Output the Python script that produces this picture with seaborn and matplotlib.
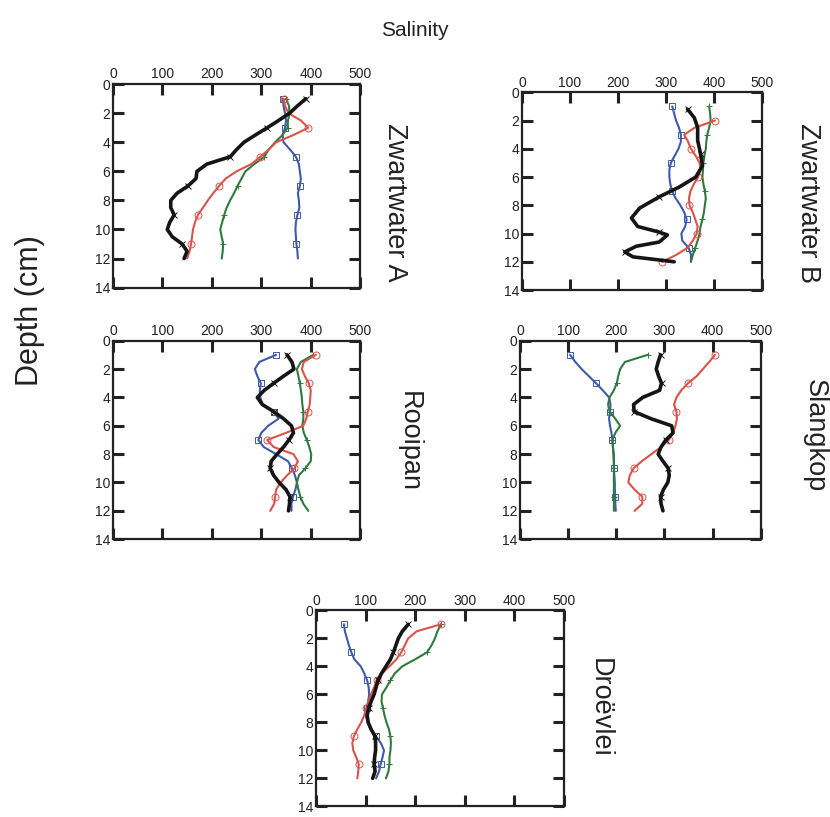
import numpy as np
import matplotlib
matplotlib.use("Agg")
import matplotlib.pyplot as plt
import seaborn as sns

sns.set_style("ticks")
plt.rcParams["font.family"] = ["Liberation Sans", "DejaVu Sans"]

# ---------------------------------------------------------------------------
# Data: salinity profiles (depth in cm, salinity)
# ---------------------------------------------------------------------------

DEPTH = [1.0, 1.5, 2.0, 2.5, 3.0, 3.5, 4.0, 4.5, 5.0, 5.5, 6.0, 6.5,
         7.0, 7.5, 8.0, 8.5, 9.0, 9.5, 10.0, 10.5, 11.0, 11.5, 12.0]

# Zwartwater A
ZWA_BLACK = [390, 373, 357, 335, 312, 288, 265, 250, 237, 190, 170, 168,
             152, 130, 117, 117, 124, 115, 110, 120, 140, 150, 144]
ZWA_RED = [345, 348, 355, 380, 395, 365, 330, 315, 298, 280, 250, 228,
           215, 203, 192, 182, 172, 166, 162, 160, 158, 155, 150]
ZWA_GREEN = [350, 356, 357, 354, 353, 343, 328, 315, 306, 286, 268, 260,
             252, 245, 237, 230, 225, 221, 217, 220, 223, 222, 220]
ZWA_BLUE = [343, 345, 348, 350, 348, 343, 345, 358, 370, 376, 378, 380,
            378, 374, 376, 377, 373, 370, 369, 370, 371, 373, 374]

# Zwartwater B
ZWB_BLACK_DEPTH = [1.2, 1.8, 2.5, 3.4, 4.35, 5.2, 6.0, 6.7, 7.4, 8.2, 8.9, 9.5,
                   9.9, 10.1, 10.6, 10.9, 11.3, 11.65, 11.9, 12.0]
ZWB_BLACK = [345, 359, 366, 366, 372, 376, 362, 328, 286, 245, 228, 241,
             286, 303, 286, 238, 214, 231, 293, 317]
ZWB_RED = [np.nan, np.nan, 402, 360, 338, 346, 352, 362, 370, 372, 367, 358,
           351, 348, 349, 356, 361, 366, 364, 356, 345, 322, 292]
ZWB_GREEN = [390, 392, 393, 390, 386, 384, 383, 380, 378, 377, 376, 378,
             381, 383, 381, 379, 376, 372, 370, 366, 361, 356, 352]
ZWB_BLUE = [313, 317, 321, 327, 331, 331, 326, 318, 310, 307, 307, 309,
            313, 320, 330, 338, 343, 340, 332, 334, 347, 352, 352]

# Rooipan
ROO_BLACK = [352, 362, 366, 345, 325, 306, 292, 302, 325, 345, 361, 365,
             356, 345, 332, 320, 318, 325, 336, 350, 358, 357, 355]
ROO_RED = [410, 386, 382, 388, 396, 400, 399, 398, 394, 391, 385, 350,
           312, 325, 365, 374, 367, 352, 339, 330, 328, 326, 318]
ROO_GREEN = [405, 380, 372, 375, 378, 380, 382, 383, 385, 385, 383, 386,
             392, 397, 401, 400, 389, 376, 372, 375, 379, 385, 395]
ROO_BLUE = [330, 296, 287, 292, 299, 297, 298, 303, 325, 335, 314, 300,
            294, 305, 330, 354, 362, 368, 372, 369, 364, 361, 361]

# Slangkop
SLA_BLACK = [292, 287, 283, 288, 294, 290, 255, 236, 237, 272, 315, 318,
             303, 293, 287, 297, 308, 310, 307, 298, 292, 293, 297]
SLA_RED = [405, 393, 380, 367, 349, 335, 325, 320, 325, 326, 323, 318,
           309, 293, 273, 253, 236, 228, 225, 238, 254, 254, 238]
SLA_GREEN = [265, 218, 208, 204, 201, 195, 186, 183, 186, 198, 208, 198,
             192, 193, 195, 195, 195, 195, 195, 195, 195, 195, 195]
SLA_BLUE = [104, 115, 128, 143, 158, 172, 185, 188, 187, 185, 187, 190,
            192, 193, 194, 195, 195, 196, 197, 197, 198, 198, 199]

# Droevlei
DRO_BLACK = [186, 174, 166, 161, 156, 150, 141, 132, 125, 121, 117, 111,
             106, 103, 105, 111, 119, 120, 120, 118, 117, 119, 114]
DRO_RED = [252, 203, 186, 179, 172, 162, 148, 133, 122, 117, 111, 105,
           101, 97, 91, 83, 76, 73, 75, 81, 86, 85, 83]
DRO_GREEN = [252, 245, 240, 233, 224, 200, 174, 159, 150, 142, 133, 132,
             135, 138, 142, 147, 150, 151, 150, 148, 148, 146, 141]
DRO_BLUE = [56, 58, 62, 66, 71, 77, 90, 97, 103, 106, 107, 105,
            103, 100, 104, 110, 121, 131, 137, 134, 130, 127, 121]

SITES = ["Zwartwater A", "Zwartwater B", "Rooipan", "Slangkop", "Droëvlei"]
X_TICKS = [0, 100, 200, 300, 400, 500]
Y_TICKS = [0, 2, 4, 6, 8, 10, 12, 14]

C_BLACK = "#151515"
C_RED = "#d9534a"
C_GREEN = "#2f7a3c"
C_BLUE = "#3f5aa8"

panels = [
    # (axes rect, series, site label position)
    ([0.136, 0.648, 0.298, 0.249],
     [(DEPTH, ZWA_BLUE, C_BLUE, "s"), (DEPTH, ZWA_GREEN, C_GREEN, "+"),
      (DEPTH, ZWA_RED, C_RED, "o"), (DEPTH, ZWA_BLACK, C_BLACK, "x")],
     (0.476, 0.752)),
    ([0.629, 0.645, 0.289, 0.242],
     [(DEPTH, ZWB_BLUE, C_BLUE, "s"), (DEPTH, ZWB_GREEN, C_GREEN, "+"),
      (DEPTH, ZWB_RED, C_RED, "o"), (ZWB_BLACK_DEPTH, ZWB_BLACK, C_BLACK, "x")],
     (0.974, 0.752)),
    ([0.136, 0.340, 0.298, 0.243],
     [(DEPTH, ROO_BLUE, C_BLUE, "s"), (DEPTH, ROO_GREEN, C_GREEN, "+"),
      (DEPTH, ROO_RED, C_RED, "o"), (DEPTH, ROO_BLACK, C_BLACK, "x")],
     (0.492, 0.459)),
    ([0.6265, 0.340, 0.290, 0.243],
     [(DEPTH, SLA_BLUE, C_BLUE, "s"), (DEPTH, SLA_GREEN, C_GREEN, "+"),
      (DEPTH, SLA_RED, C_RED, "o"), (DEPTH, SLA_BLACK, C_BLACK, "x")],
     (0.982, 0.467)),
    ([0.381, 0.013, 0.298, 0.240],
     [(DEPTH, DRO_BLUE, C_BLUE, "s"), (DEPTH, DRO_GREEN, C_GREEN, "+"),
      (DEPTH, DRO_RED, C_RED, "o"), (DEPTH, DRO_BLACK, C_BLACK, "x")],
     (0.722, 0.134)),
]

fig = plt.figure(figsize=(8.3, 8.17), dpi=100)

for site, (rect, series, label_pos) in zip(SITES, panels):
    ax = fig.add_axes(rect)
    for depth, values, color, marker in series:
        is_black = color == C_BLACK
        sns.lineplot(x=values, y=depth, orient="y", color=color, ax=ax,
                     linewidth=2.6 if is_black else 1.5,
                     marker=marker, markevery=4, markersize=5,
                     markerfacecolor="none", markeredgecolor=color,
                     markeredgewidth=0.7)
    ax.set_xlim(0, 500)
    ax.set_ylim(14, 0)
    ax.set_xticks(X_TICKS)
    ax.set_yticks(Y_TICKS)
    ax.tick_params(axis="both", which="major", direction="in", length=8, width=2.2,
                   top=True, bottom=True, left=True, right=True,
                   labeltop=True, labelbottom=False, labelsize=10, pad=2,
                   colors="#222222")
    for spine in ax.spines.values():
        spine.set_linewidth(1.6)
        spine.set_color("#222222")
    ax.set_xlabel("")
    ax.set_ylabel("")
    fig.text(label_pos[0], label_pos[1], site, rotation=270, fontsize=19.5,
             ha="center", va="center", color="#222222")

fig.text(0.5, 0.963, "Salinity", fontsize=15, ha="center", va="center", color="#222222")
fig.text(0.036, 0.62, "Depth (cm)", rotation=90, fontsize=22, ha="center", va="center",
         color="#222222")

plt.savefig("out.png", dpi=100)
plt.close()
